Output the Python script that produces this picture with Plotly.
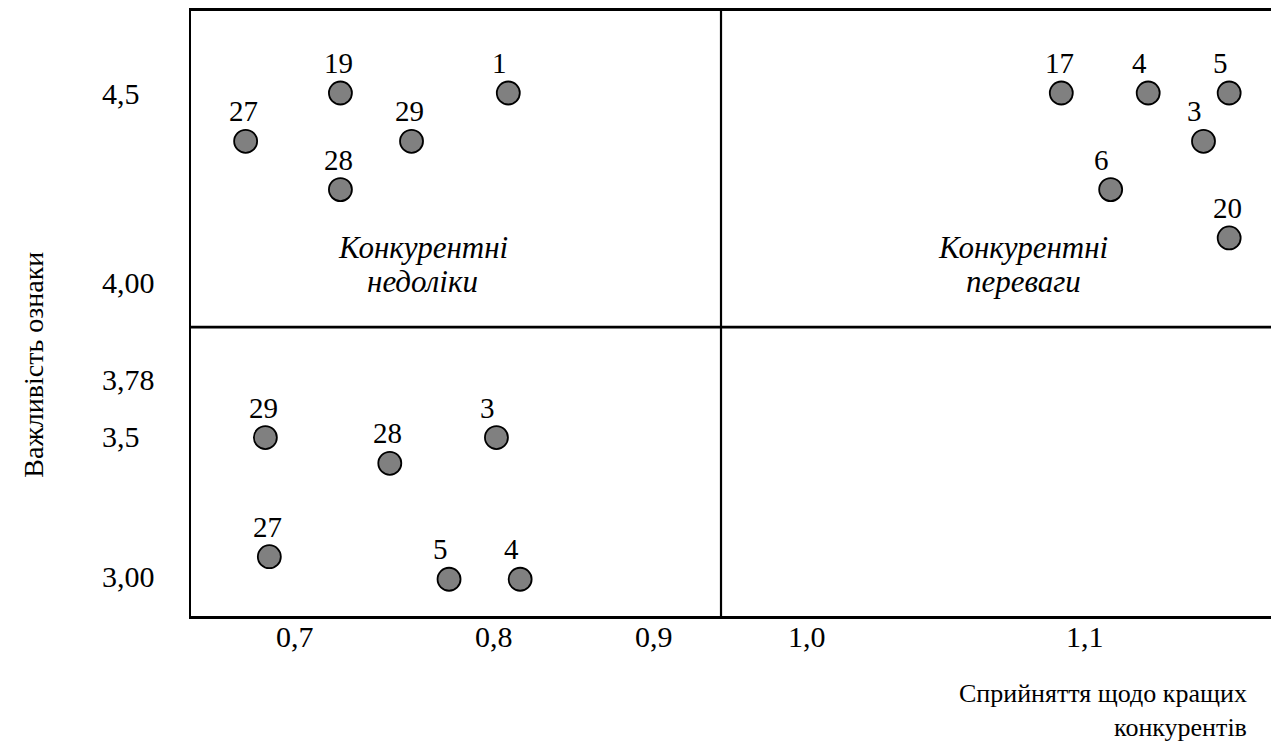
import plotly.graph_objects as go

# ---- data (axis units) ----
ul_labels = ["27", "19", "28", "29", "1"]
ul_x = [0.675, 0.723, 0.723, 0.759, 0.808]
ul_y = [4.35, 4.50, 4.20, 4.35, 4.50]

ur_labels = ["17", "6", "4", "3", "5", "20"]
ur_x = [1.088, 1.113, 1.132, 1.160, 1.173, 1.173]
ur_y = [4.50, 4.20, 4.50, 4.35, 4.50, 4.05]

ll_labels = ["29", "27", "28", "5", "3", "4"]
ll_x = [0.685, 0.687, 0.748, 0.778, 0.802, 0.814]
ll_y = [3.43, 3.06, 3.35, 2.99, 3.43, 2.99]

x_tick_text = ["0,7", "0,8", "0,9", "1,0", "1,1"]
x_tick_vals = [0.700, 0.801, 0.882, 0.959, 1.100]
y_tick_text = ["4,5", "4,00", "3,78", "3,5", "3,00"]
y_tick_vals = [4.50, 3.913, 3.609, 3.432, 3.00]

x_split = 0.9157
y_split = 3.773
x_range = [0.64734, 1.19418]
y_range = [2.8758, 4.7547]

quad_left = ["Конкурентні", "недоліки"]
quad_right = ["Конкурентні", "переваги"]
x_title = ["Сприйняття щодо кращих", "конкурентів"]
y_title = "Важливість ознаки"

SERIF = "Liberation Serif"

fig = go.Figure()
all_x = ul_x + ur_x + ll_x
all_y = ul_y + ur_y + ll_y
all_lab = ul_labels + ur_labels + ll_labels

fig.add_trace(go.Scatter(
    x=all_x, y=all_y, mode="markers",
    marker=dict(size=23, color="#808080", line=dict(color="black", width=1.8)),
    hoverinfo="skip", showlegend=False,
))

ann = []
for x, y, t in zip(all_x, all_y, all_lab):
    ann.append(dict(x=x, y=y, xref="x", yref="y", text=t, showarrow=False,
                    xanchor="center", yanchor="middle",
                    xshift=-9 if len(t) == 1 else -2, yshift=30,
                    font=dict(family=SERIF, size=29, color="black")))

for v, t in zip(y_tick_vals, y_tick_text):
    ann.append(dict(x=-0.0843, y=v, xref="paper", yref="y", text=t, showarrow=False,
                    xanchor="left", yanchor="middle",
                    font=dict(family=SERIF, size=30, color="black")))

for v, t in zip(x_tick_vals, x_tick_text):
    ann.append(dict(x=v, y=-0.0347, xref="x", yref="paper", text=t, showarrow=False,
                    xanchor="center", yanchor="middle",
                    font=dict(family=SERIF, size=30, color="black")))

# quadrant captions
cap_y = [0.6083, 0.5521]
for i, t in enumerate(quad_left):
    ann.append(dict(x=0.2148, y=cap_y[i], xref="paper", yref="paper",
                    text="<i>%s</i>" % t, showarrow=False, xanchor="center", yanchor="middle",
                    font=dict(family=SERIF, size=31, color="black")))
for i, t in enumerate(quad_right):
    ann.append(dict(x=0.7704, y=cap_y[i], xref="paper", yref="paper",
                    text="<i>%s</i>" % t, showarrow=False, xanchor="center", yanchor="middle",
                    font=dict(family=SERIF, size=31, color="black")))

# axis titles
ann.append(dict(x=0.9787, y=-0.1555, xref="paper", yref="paper",
                text="<br>".join(x_title), showarrow=False, align="right",
                xanchor="right", yanchor="middle", borderpad=0,
                font=dict(family=SERIF, size=26, color="black")))
ann.append(dict(x=-0.146, y=0.416, xref="paper", yref="paper", text=y_title,
                showarrow=False, textangle=-90, xanchor="center", yanchor="middle",
                font=dict(family=SERIF, size=28, color="black")))

shapes = [
    dict(type="line", xref="x", yref="paper", x0=x_split, x1=x_split, y0=0, y1=1,
         line=dict(color="black", width=2.2)),
    dict(type="line", xref="paper", yref="y", x0=0, x1=1, y0=y_split, y1=y_split,
         line=dict(color="black", width=2.6)),
]

fig.update_layout(
    width=1271, height=742,
    margin=dict(l=191, r=0, t=11, b=126),
    paper_bgcolor="white", plot_bgcolor="white",
    font=dict(family=SERIF, color="black"),
    annotations=ann, shapes=shapes,
    xaxis=dict(range=x_range, showticklabels=False,
               showgrid=False, zeroline=False, showline=True, mirror=True,
               linecolor="black", linewidth=2.8, ticks=""),
    yaxis=dict(range=y_range, showticklabels=False, showgrid=False, zeroline=False,
               showline=True, mirror=False, linecolor="black", linewidth=2.2, ticks=""),
)

fig.write_html("out.html", config={"displayModeBar": False},
               post_script="document.body.style.margin='0';document.body.style.overflow='hidden';")
